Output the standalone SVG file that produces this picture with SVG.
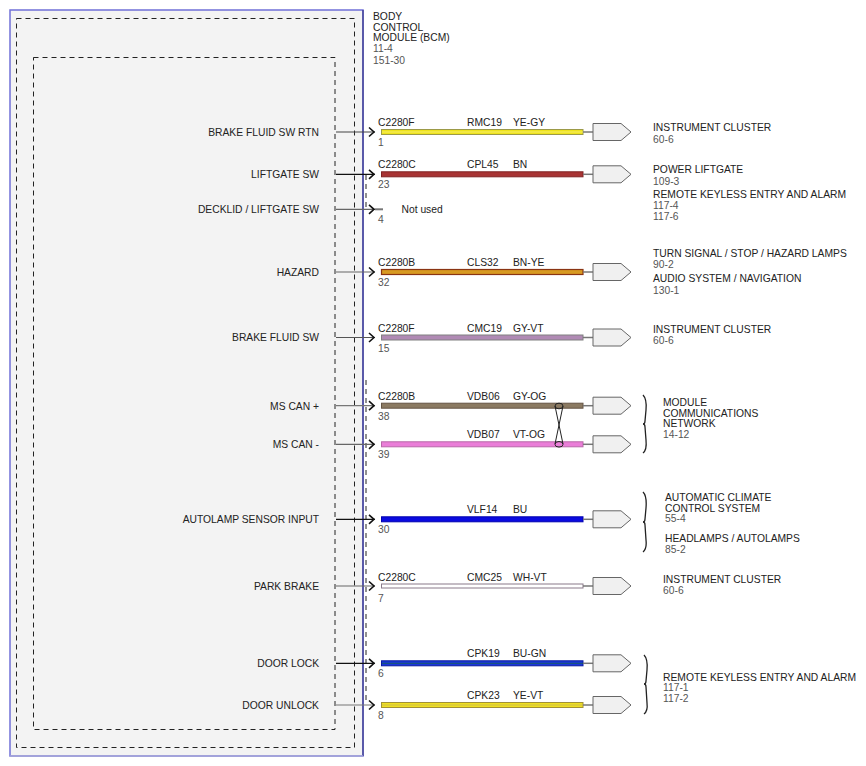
<svg xmlns="http://www.w3.org/2000/svg" width="866" height="766" viewBox="0 0 866 766">
<style>
text{font-family:"Liberation Sans",Arial,sans-serif;font-size:10.3px;fill:#222}
.n{fill:#555}
.l{text-anchor:end}
.dash{fill:none;stroke:#222;stroke-width:1;stroke-dasharray:5,4}
.lead{stroke-width:1.2;fill:none}
.chev{fill:none;stroke:#111;stroke-width:1.6}
.stub{stroke:#777;stroke-width:1.5}
.conn{fill:#f0f0f0;stroke:#666;stroke-width:1}
.brace{fill:none;stroke:#222;stroke-width:1.3}
</style>
<defs>
<path id="pent" d="M0,-8.5 H28 L38,0 L28,8.5 H0 Z" class="conn"/>
<path id="chv" d="M-3,-4.5 L2,0 L-3,4.5" class="chev"/>
</defs>
<rect width="866" height="766" fill="#fff"/>
<g id="bcm">
<rect x="10" y="10" width="353" height="746" fill="#f3f3f3" stroke="#7070d8" stroke-width="1.5"/>
<line x1="363" y1="10" x2="363" y2="756" stroke="#353585" stroke-width="1.2"/>
<line x1="10" y1="756" x2="363" y2="756" stroke="#a8a8d8" stroke-width="1.5"/>
<rect x="16.5" y="18.5" width="338" height="729" class="dash"/>
<rect x="33.5" y="57.5" width="301.5" height="672" class="dash"/>
<line x1="366" y1="175" x2="366" y2="209" class="dash"/>
<line x1="366" y1="380" x2="366" y2="703" class="dash"/>
<text x="373" y="19.5">BODY</text>
<text x="373" y="30.5">CONTROL</text>
<text x="373" y="41">MODULE (BCM)</text>
<text x="373" y="52" class="n">11-4</text>
<text x="373" y="63.5" class="n">151-30</text>
<text x="319" y="135.5" class="l">BRAKE FLUID SW RTN</text>
<text x="319" y="178" class="l">LIFTGATE SW</text>
<text x="319" y="213" class="l">DECKLID / LIFTGATE SW</text>
<text x="319" y="275.5" class="l">HAZARD</text>
<text x="319" y="341" class="l">BRAKE FLUID SW</text>
<text x="319" y="409.5" class="l">MS CAN +</text>
<text x="319" y="448" class="l">MS CAN -</text>
<text x="319" y="523" class="l">AUTOLAMP SENSOR INPUT</text>
<text x="319" y="590" class="l">PARK BRAKE</text>
<text x="319" y="667" class="l">DOOR LOCK</text>
<text x="319" y="708.5" class="l">DOOR UNLOCK</text>
</g>
<g id="connectors">
<!-- leads -->
<line x1="336" y1="132" x2="375" y2="132" class="lead" stroke="#444"/>
<line x1="336" y1="174.3" x2="375" y2="174.3" class="lead" stroke="#111"/>
<line x1="336" y1="209.3" x2="375" y2="209.3" class="lead" stroke="#666"/>
<line x1="375" y1="209.3" x2="383" y2="209.3" stroke="#777" stroke-width="2"/>
<line x1="336" y1="272" x2="375" y2="272" class="lead" stroke="#666"/>
<line x1="336" y1="337.5" x2="375" y2="337.5" class="lead" stroke="#555"/>
<line x1="336" y1="405.7" x2="375" y2="405.7" class="lead" stroke="#777"/>
<line x1="336" y1="444.3" x2="375" y2="444.3" class="lead" stroke="#666"/>
<line x1="336" y1="519.3" x2="375" y2="519.3" class="lead" stroke="#111"/>
<line x1="336" y1="586" x2="375" y2="586" class="lead" stroke="#666"/>
<line x1="336" y1="663.3" x2="375" y2="663.3" class="lead" stroke="#111"/>
<line x1="336" y1="705" x2="375" y2="705" class="lead" stroke="#777"/>
<use href="#chv" x="372" y="132"/>
<use href="#chv" x="372" y="174.3"/>
<use href="#chv" x="372" y="209.3"/>
<use href="#chv" x="372" y="272"/>
<use href="#chv" x="372" y="337.5"/>
<use href="#chv" x="372" y="405.7"/>
<use href="#chv" x="372" y="444.3"/>
<use href="#chv" x="372" y="519.3"/>
<use href="#chv" x="372" y="586"/>
<use href="#chv" x="372" y="663.3"/>
<use href="#chv" x="372" y="705"/>
<!-- wires -->
<rect x="381.5" y="129.5" width="201.5" height="5" fill="#eee31c" stroke="#9c9a48" stroke-width="1"/>
<line x1="382" y1="132" x2="583" y2="132" stroke="#f8f080" stroke-width="0.8"/>
<rect x="381.5" y="171.8" width="201.5" height="5" fill="#a83434" stroke="#802424" stroke-width="1"/>
<rect x="381.5" y="269.5" width="201.5" height="5" fill="#d79a22" stroke="#8a3412" stroke-width="1.2"/>
<rect x="381.5" y="335" width="201.5" height="5" fill="#b08ab4" stroke="#808080" stroke-width="1"/>
<rect x="381.5" y="403.2" width="201.5" height="5" fill="#8b7a62" stroke="#655545" stroke-width="1"/>
<rect x="381.5" y="441.8" width="201.5" height="5" fill="#ea7ed8" stroke="#b868a8" stroke-width="1"/>
<rect x="381.5" y="516.8" width="201.5" height="5" fill="#0a0ae0" stroke="#0000b0" stroke-width="1"/>
<rect x="381.5" y="584" width="201.5" height="4" fill="#ffffff" stroke="#8a7a8a" stroke-width="1"/>
<rect x="381.5" y="660.8" width="201.5" height="5" fill="#1838d8" stroke="#0a1aa0" stroke-width="1"/>
<line x1="382" y1="663.3" x2="583" y2="663.3" stroke="#1a5a6a" stroke-width="1"/>
<rect x="381.5" y="702.5" width="201.5" height="5" fill="#f0e020" stroke="#a09038" stroke-width="1"/>
<line x1="382" y1="705" x2="583" y2="705" stroke="#c0b060" stroke-width="0.7"/>
<!-- twisted pair -->
<path d="M555,406 L563,444 M563,406 L555,444" fill="none" stroke="#222" stroke-width="1"/>
<ellipse cx="559" cy="406" rx="4" ry="2.8" fill="none" stroke="#222" stroke-width="1"/>
<ellipse cx="559" cy="444.3" rx="4" ry="2.8" fill="none" stroke="#222" stroke-width="1"/>
<!-- stubs -->
<line x1="583" y1="132" x2="593" y2="132" class="stub"/>
<line x1="583" y1="174.3" x2="593" y2="174.3" class="stub"/>
<line x1="583" y1="272" x2="593" y2="272" class="stub"/>
<line x1="583" y1="337.5" x2="593" y2="337.5" class="stub"/>
<line x1="583" y1="405.7" x2="593" y2="405.7" class="stub"/>
<line x1="583" y1="444.3" x2="593" y2="444.3" class="stub"/>
<line x1="583" y1="519.3" x2="593" y2="519.3" class="stub"/>
<line x1="583" y1="586" x2="593" y2="586" class="stub"/>
<line x1="583" y1="663.3" x2="593" y2="663.3" class="stub"/>
<line x1="583" y1="705" x2="593" y2="705" class="stub"/>
<!-- wire labels -->
<text x="378" y="126">C2280F</text><text x="467" y="126">RMC19</text><text x="513" y="126">YE-GY</text><text x="378" y="146" class="n">1</text>
<text x="378" y="168.3">C2280C</text><text x="467" y="168.3">CPL45</text><text x="513" y="168.3">BN</text><text x="378" y="188.3" class="n">23</text>
<text x="401.5" y="212.5">Not used</text><text x="378" y="223" class="n">4</text>
<text x="378" y="266">C2280B</text><text x="467" y="266">CLS32</text><text x="513" y="266">BN-YE</text><text x="378" y="286" class="n">32</text>
<text x="378" y="331.5">C2280F</text><text x="467" y="331.5">CMC19</text><text x="513" y="331.5">GY-VT</text><text x="378" y="351.5" class="n">15</text>
<text x="378" y="399.7">C2280B</text><text x="467" y="399.7">VDB06</text><text x="513" y="399.7">GY-OG</text><text x="378" y="419.7" class="n">38</text>
<text x="467" y="438.3">VDB07</text><text x="513" y="438.3">VT-OG</text><text x="378" y="458.3" class="n">39</text>
<text x="467" y="513.3">VLF14</text><text x="513" y="513.3">BU</text><text x="378" y="532.5" class="n">30</text>
<text x="378" y="580.5">C2280C</text><text x="467" y="580.5">CMC25</text><text x="513" y="580.5">WH-VT</text><text x="378" y="601.5" class="n">7</text>
<text x="467" y="657.3">CPK19</text><text x="513" y="657.3">BU-GN</text><text x="378" y="677" class="n">6</text>
<text x="467" y="699">CPK23</text><text x="513" y="699">YE-VT</text><text x="378" y="718.5" class="n">8</text>
</g>
<g id="instrument-cluster-1">
<use href="#pent" x="593" y="132"/>
<text x="653" y="131">INSTRUMENT CLUSTER</text>
<text x="653" y="142.5" class="n">60-6</text>
</g>
<g id="power-liftgate">
<use href="#pent" x="593" y="174.3"/>
<text x="653" y="173">POWER LIFTGATE</text>
<text x="653" y="184.5" class="n">109-3</text>
<text x="653" y="197.5">REMOTE KEYLESS ENTRY AND ALARM</text>
<text x="653" y="209" class="n">117-4</text>
<text x="653" y="220" class="n">117-6</text>
</g>
<g id="turn-signal">
<use href="#pent" x="593" y="272"/>
<text x="653" y="257">TURN SIGNAL / STOP / HAZARD LAMPS</text>
<text x="653" y="268" class="n">90-2</text>
<text x="653" y="282">AUDIO SYSTEM / NAVIGATION</text>
<text x="653" y="293.5" class="n">130-1</text>
</g>
<g id="instrument-cluster-2">
<use href="#pent" x="593" y="337.5"/>
<text x="653" y="333">INSTRUMENT CLUSTER</text>
<text x="653" y="344" class="n">60-6</text>
</g>
<g id="module-comm-network">
<use href="#pent" x="593" y="405.7"/>
<use href="#pent" x="593" y="444.3"/>
<path d="M643,395 Q647,399 646,410 L645,421 Q645,424 643,424 Q645,424 645,427 L646,440 Q647,450 643,453" class="brace"/>
<text x="663" y="406">MODULE</text>
<text x="663" y="416.5">COMMUNICATIONS</text>
<text x="663" y="427">NETWORK</text>
<text x="663" y="437.5" class="n">14-12</text>
</g>
<g id="autolamp-targets">
<use href="#pent" x="593" y="519.3"/>
<path d="M643,492 Q647,496 646,508 L645,519 Q645,522 643,522 Q645,522 645,525 L646,540 Q647,549 643,552" class="brace"/>
<text x="665" y="501">AUTOMATIC CLIMATE</text>
<text x="665" y="511.5">CONTROL SYSTEM</text>
<text x="665" y="522" class="n">55-4</text>
<text x="665" y="542">HEADLAMPS / AUTOLAMPS</text>
<text x="665" y="552.5" class="n">85-2</text>
</g>
<g id="instrument-cluster-3">
<use href="#pent" x="593" y="586"/>
<text x="663" y="583">INSTRUMENT CLUSTER</text>
<text x="663" y="594" class="n">60-6</text>
</g>
<g id="remote-keyless">
<use href="#pent" x="593" y="663.3"/>
<use href="#pent" x="593" y="705"/>
<path d="M644,655 Q648,659 647,670 L646,681 Q646,684 644,684 Q646,684 646,687 L647,703 Q648,711 644,714" class="brace"/>
<text x="663" y="681">REMOTE KEYLESS ENTRY AND ALARM</text>
<text x="663" y="691" class="n">117-1</text>
<text x="663" y="702" class="n">117-2</text>
</g>
</svg>
